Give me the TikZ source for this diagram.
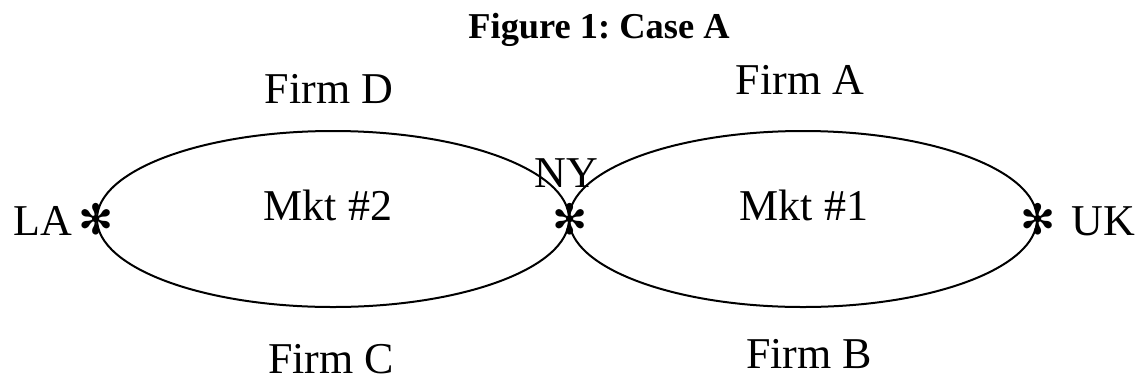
\documentclass[tikz,border=0pt]{standalone}
\usepackage{fontspec}
\setmainfont{Liberation Serif}
\newfontfamily\symfont{DejaVu Sans}
\usetikzlibrary{shapes.geometric}
\frenchspacing

\tikzset{every picture/.style={line width=1pt}}
\tikzset{lbl/.style={anchor=base,inner sep=0pt,font=\fontsize{22}{26}\selectfont}}
\tikzset{mkt/.style={draw,ellipse,inner sep=0pt,minimum height=88pt}}
\tikzset{star/.style={inner sep=0pt,font=\symfont\fontsize{21}{26}\selectfont}}

\begin{document}
\begin{tikzpicture}[x=0.5pt,y=0.5pt,yscale=-1,xscale=1]
\useasboundingbox (0,0) rectangle (1140,381);

% Title
\draw (599,38) node [anchor=base,inner sep=0pt,font=\bfseries\fontsize{18.2}{22}\selectfont] (title) {Figure 1: Case A};

%Shape: Ellipse
\node [mkt,minimum width=236pt] (mkt2) at (333,219) {};
%Shape: Ellipse
\node [mkt,minimum width=234pt] (mkt1) at (803,219) {};

% Markers
\node [star] (la) at (mkt2.west) {✻};
\node [star] (ny) at (mkt2.east) {✻};
\node [star] (uk) at (mkt1.east) {✻};

% Text Node
\draw (328,220) node [lbl] (mkt2lbl) {Mkt \#2};
% Text Node
\draw (804,220) node [lbl] (mkt1lbl) {Mkt \#1};
% Text Node
\draw (329,103) node [lbl] (firmd) {Firm D};
% Text Node
\draw (331,373) node [lbl] (firmc) {Firm C};
% Text Node
\draw (800,94) node [lbl] (firma) {Firm A};
% Text Node
\draw (809,368) node [lbl] (firmb) {Firm B};
% Text Node
\draw (43,235) node [lbl] (lalbl) {LA};
% Text Node
\draw (566,187) node [lbl] (nylbl) {NY};
% Text Node
\draw (1103,235) node [lbl] (uklbl) {UK};

\end{tikzpicture}
\end{document}
